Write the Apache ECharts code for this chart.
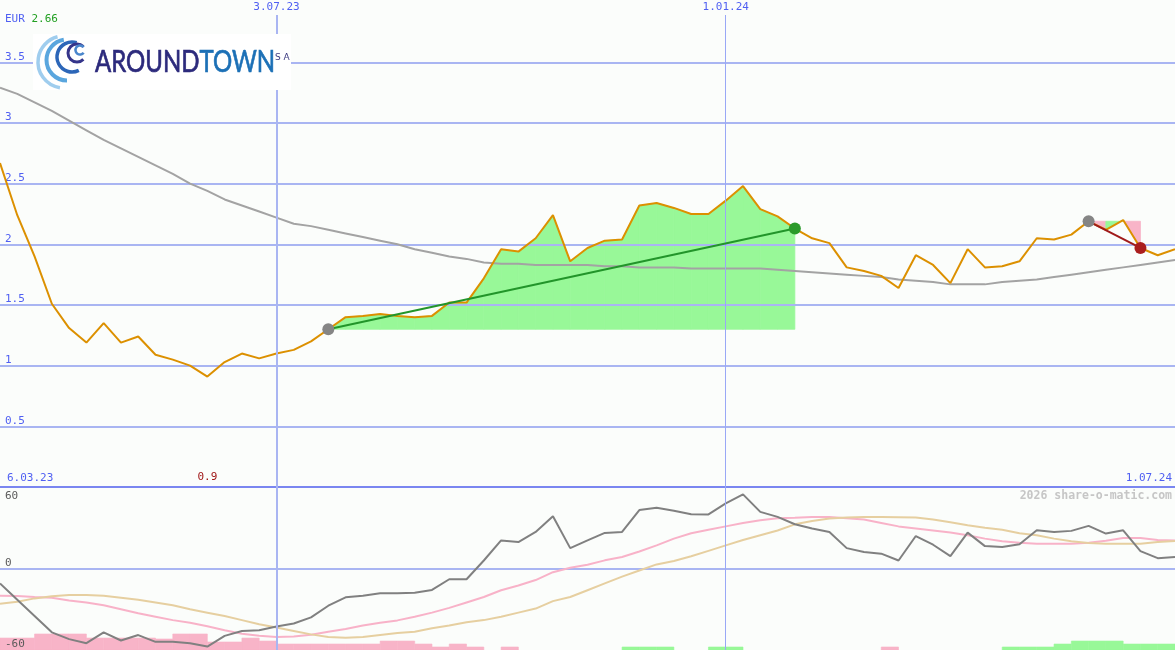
<!DOCTYPE html>
<html><head><meta charset="utf-8">
<script src="https://cdn.jsdelivr.net/npm/echarts@6/dist/echarts.min.js"></script>
<style>html,body{margin:0;padding:0;background:#fbfdfb}#c{width:1175px;height:650px}</style>
</head><body><div id="c"></div>
<script>
// ---- data (weekly points, index 0 = left edge) ----
const startLabel = '6.03.23';
const endLabel = '1.07.24';
const topTickIdx = [16, 42];
const topTickLabels = ['3.07.23', '1.01.24'];
const currency = 'EUR';
const headValue = '2.66';
const watermark = '2026 share-o-matic.com';

const price = [2.67,2.24,1.90,1.51,1.31,1.19,1.35,1.19,1.24,1.09,
  1.05,1.00,0.91,1.03,1.10,1.06,1.10,1.13,1.20,1.30,
  1.40,1.41,1.425,1.41,1.40,1.41,1.52,1.52,1.72,1.96,
  1.94,2.05,2.24,1.86,1.97,2.03,2.04,2.32,2.34,2.30,
  2.25,2.25,2.36,2.48,2.29,2.23,2.13,2.05,2.01,1.81,
  1.78,1.74,1.64,1.91,1.83,1.68,1.96,1.81,1.82,1.86,
  2.05,2.04,2.08,2.19,2.12,2.20,1.97,1.91,1.96];

const movingAvg = [3.29,3.24,3.17,3.10,3.02,2.94,2.86,2.79,2.72,2.65,
  2.58,2.50,2.44,2.37,2.32,2.27,2.22,2.17,2.15,2.12,
  2.09,2.06,2.03,2.00,1.96,1.93,1.90,1.88,1.85,1.84,
  1.84,1.83,1.83,1.83,1.83,1.82,1.82,1.81,1.81,1.81,
  1.80,1.80,1.80,1.80,1.80,1.79,1.78,1.77,1.76,1.75,
  1.74,1.73,1.71,1.70,1.69,1.67,1.67,1.67,1.69,1.70,
  1.71,1.73,1.75,1.77,1.79,1.81,1.83,1.85,1.87];

const tradeStart = [19, 63];
const tradeEnd = [46, 66];

const oscillator = [-11,-23,-35,-47,-52,-55,-47,-53,-49,-54,
  -54,-55,-57.5,-49.6,-46,-45.4,-42.7,-40.5,-36,-27.4,
  -21.2,-20,-18.3,-18.3,-17.8,-15.8,-7.9,-7.9,5.9,20.7,
  19.5,26.9,38.5,15,20.7,26.2,26.9,43,44.7,42.5,
  40,39.8,48,54.6,41.7,38,32.6,29.4,26.9,15,
  12.1,10.9,5.9,23.9,17.5,9.1,26.4,16.5,15.8,17.8,
  28.1,26.9,27.7,31.4,25.7,28.1,12.8,7.6,8.4];

const oscPink = [-20,-20.3,-21,-21.5,-23.5,-25,-27,-30,-33,-35.5,
  -38,-40,-42.5,-45.5,-48,-49.5,-50.4,-50,-48.8,-46.5,
  -44.5,-42,-40,-38.2,-35.5,-32.5,-29,-25,-21,-16,
  -12.5,-8.5,-2.7,0.5,2.8,6,8.5,12.5,17,22,
  26,28.5,31,33.5,35.5,37,37.3,38,38,37,
  36,33.5,31,29.5,28,26.5,24.4,22,20,19,
  18.3,18.3,18.3,19,20.5,22.5,22.5,21,20.7];

const oscTan = [-26,-24.5,-22,-20.5,-19.5,-19.5,-20,-21.5,-23,-25,
  -27,-30,-32.5,-35,-38,-41,-43.5,-46,-48.5,-50.5,
  -51,-50.5,-49,-47.5,-46.5,-44,-42,-39.5,-38,-35.5,
  -32.5,-29.5,-24,-21,-16,-11,-6,-1.5,3,5.5,
  9,13,17,21,24.5,28,32.5,35,36.8,37.5,
  38,38,37.8,37.5,36,34,31.9,30,28.6,26,
  24.4,22,20,18.8,18.3,18.3,18.3,19.5,20.2];

// signed bar heights: negative = pink, positive = green (one per week)
const signalBars = [-8.8,-8.8,-11.8,-11.8,-11.8,-8.8,-8.8,-8.8,-8.8,-8.1,
  -11.8,-11.8,-5.9,-5.9,-8.8,-6.6,-4.4,-4.4,-4.4,-4.4,
  -4.4,-4.4,-6.6,-6.6,-4.4,-2.2,-4.4,-2.2,0,-2.2,
  0,0,0,0,0,0,2.2,2.2,2.2,0,
  0,2.2,2.2,0,0,0,0,0,0,0,
  0,-2.2,0,0,0,0,0,0,2.2,2.2,
  2.2,4.4,6.6,6.6,6.6,4.4,4.4,4.4];

// ---- styles ----
const BLUE_TXT = '#4f5ff2', GRID = '#a9b5f2', SEP = '#7a86f0';
const GREEN_FILL = '#98f898', PINK_FILL = '#f8b4c8';
const MONO = 'DejaVu Sans Mono';
const nW = price.length - 1;

const fillData = [];
tradeStart.forEach((s, k) => {
  const e = tradeEnd[k], base = price[s];
  for (let i = s; i < e; i++) fillData.push([i, base, price[i], price[i + 1], price[i + 1] >= base ? 1 : 0]);
});
const tradeLines = tradeStart.map((s, k) => {
  const e = tradeEnd[k];
  const win = price[e] >= price[s];
  return {
    type: 'line', xAxisIndex: 0, yAxisIndex: 0, z: 6, silent: true,
    symbol: 'circle', symbolSize: 12,
    lineStyle: { color: win ? '#22952a' : '#a01a1a', width: 2 },
    data: [
      { value: [s, price[s]], itemStyle: { color: '#858585' } },
      { value: [e, price[e]], itemStyle: { color: win ? '#2a9a2a' : '#aa1e1e' } }
    ]
  };
});
let minIdx = 0;
price.forEach((v, i) => { if (v < price[minIdx]) minIdx = i; });

const vMarkLines = (withLabel) => ({
  silent: true, symbol: ['none', 'none'], animation: false,
  data: topTickIdx.map((x, k) => ({
    xAxis: x,
    lineStyle: { color: k === 0 ? '#a9b5f2' : '#99a8f6', width: k === 0 ? 2 : 1, type: 'solid' },
    label: { show: withLabel, formatter: topTickLabels[k], position: 'end', distance: 2,
      color: BLUE_TXT, fontFamily: MONO, fontSize: 11 }
  }))
});

const chart = echarts.init(document.getElementById('c'), null, { renderer: 'canvas' });
const LZ = 100;
chart.setOption({
  animation: false,
  backgroundColor: '#fbfdfb',
  grid: [
    { left: 0, right: 0, top: 15, height: 472 },
    { left: 0, right: 0, top: 487, height: 163 }
  ],
  xAxis: [
    { gridIndex: 0, type: 'value', min: 0, max: nW, interval: nW,
      axisLine: { show: true, lineStyle: { color: SEP, width: 2 } },
      axisTick: { show: false }, splitLine: { show: false },
      axisLabel: { inside: true, margin: 3, color: BLUE_TXT, fontFamily: MONO, fontSize: 11,
        alignMinLabel: 'left', alignMaxLabel: 'right', padding: [0, 3, 0, 7],
        formatter: v => v === 0 ? startLabel : (v === nW ? endLabel : '') } },
    { gridIndex: 1, type: 'value', min: 0, max: nW, show: false }
  ],
  yAxis: [
    { gridIndex: 0, type: 'value', min: 0, max: 3.89, interval: 0.5,
      axisLine: { show: false }, axisTick: { show: false },
      axisLabel: { inside: true, margin: 5, verticalAlign: 'bottom', color: BLUE_TXT, fontFamily: MONO, fontSize: 11,
        formatter: v => (v > 0 && v < 3.8) ? String(v) : '' },
      splitLine: { show: true, lineStyle: { width: 2, color: [GRID, GRID, GRID, GRID, GRID, GRID, GRID, GRID, 'rgba(0,0,0,0)'] } } },
    { gridIndex: 1, type: 'value', position: 'left', min: -60, max: 60, interval: 60,
      axisLine: { show: false }, axisTick: { show: false },
      axisLabel: { inside: true, margin: 5, verticalAlign: 'bottom', color: '#5a5a5a', fontFamily: MONO, fontSize: 11,
        showMinLabel: true, formatter: v => v < 60 ? String(v) : '' },
      splitLine: { show: true, lineStyle: { width: 2, color: ['rgba(0,0,0,0)', GRID, 'rgba(0,0,0,0)'] } } },
    { gridIndex: 1, type: 'value', position: 'left', offset: 0, min: -60, max: 60, interval: 60,
      axisLine: { show: false }, axisTick: { show: false }, splitLine: { show: false },
      axisLabel: { inside: true, margin: 5, verticalAlign: 'top', padding: [4, 0, 0, 0], color: '#5a5a5a', fontFamily: MONO, fontSize: 11,
        formatter: v => v === 60 ? '60' : '' } }
  ],
  series: [
    { type: 'custom', xAxisIndex: 0, yAxisIndex: 0, z: -1, silent: true,
      data: fillData, encode: { x: 0, y: [1, 2, 3] },
      renderItem: (params, api) => {
        const i = api.value(0), b = api.value(1), p0 = api.value(2), p1 = api.value(3), up = api.value(4);
        const pts = [api.coord([i, b]), api.coord([i, p0]), api.coord([i + 1, p1]), api.coord([i + 1, b])];
        const c = up ? GREEN_FILL : PINK_FILL;
        return { type: 'polygon', shape: { points: pts }, style: { fill: c, stroke: c, lineWidth: 0.8 } };
      } },
    { type: 'line', xAxisIndex: 0, yAxisIndex: 0, z: 0, silent: true, symbol: 'none',
      data: [], markLine: vMarkLines(true) },
    { type: 'line', xAxisIndex: 1, yAxisIndex: 1, z: 0, silent: true, symbol: 'none',
      data: [], markLine: vMarkLines(false) },
    { type: 'line', xAxisIndex: 0, yAxisIndex: 0, z: 3, silent: true, symbol: 'none',
      lineStyle: { color: '#a3a3a3', width: 2 }, data: movingAvg.map((v, i) => [i, v]) },
    { type: 'line', xAxisIndex: 0, yAxisIndex: 0, z: 4, silent: true, symbol: 'none',
      lineStyle: { color: '#dc9000', width: 2 }, data: price.map((v, i) => [i, v]),
      markPoint: { symbol: 'circle', symbolSize: 0, silent: true,
        data: [{ coord: [minIdx, 0], value: price[minIdx] }],
        label: { show: true, position: 'top', distance: 4, color: '#a01818', fontFamily: MONO, fontSize: 11,
          formatter: p => p.value.toFixed(1) } } },
    ...tradeLines,
    { type: 'custom', xAxisIndex: 1, yAxisIndex: 1, z: -1, silent: true,
      data: signalBars.map((v, i) => [i, v]), encode: { x: 0, y: 1 },
      renderItem: (params, api) => {
        const i = api.value(0), v = api.value(1);
        if (!v) return null;
        const a = api.coord([i, -60]), b = api.coord([i + 1, -60 + Math.abs(v)]);
        const c = v < 0 ? PINK_FILL : GREEN_FILL;
        return { type: 'rect', shape: { x: a[0], y: b[1], width: b[0] - a[0], height: a[1] - b[1] },
          style: { fill: c, stroke: c, lineWidth: 0.6 } };
      } },
    { type: 'line', xAxisIndex: 1, yAxisIndex: 1, z: 3, silent: true, symbol: 'none',
      lineStyle: { color: '#f8b2c8', width: 2 }, data: oscPink.map((v, i) => [i, v]) },
    { type: 'line', xAxisIndex: 1, yAxisIndex: 1, z: 3, silent: true, symbol: 'none',
      lineStyle: { color: '#e6cfa0', width: 2 }, data: oscTan.map((v, i) => [i, v]) },
    { type: 'line', xAxisIndex: 1, yAxisIndex: 1, z: 4, silent: true, symbol: 'none',
      lineStyle: { color: '#808080', width: 2 }, data: oscillator.map((v, i) => [i, v]) }
  ],
  graphic: [
    { type: 'text', left: 5, top: 14, z: LZ, silent: true,
      style: { text: '{a|' + currency + '} {b|' + headValue + '}', font: '11px ' + MONO,
        rich: { a: { fill: BLUE_TXT, font: '11px ' + MONO }, b: { fill: '#22a022', font: '11px ' + MONO } } } },
    { type: 'text', right: 3, top: 490, z: LZ, silent: true,
      style: { text: watermark, fill: '#c6c6c6', font: 'bold 11.5px ' + MONO } },
    { type: 'rect', z: LZ, silent: true, shape: { x: 33, y: 34, width: 258, height: 56 }, style: { fill: '#ffffff' } },
    { type: 'arc', z: LZ + 1, silent: true, shape: { cx: 64, cy: 62, r: 26, startAngle: Math.PI * 0.55, endAngle: Math.PI * 1.42, clockwise: true },
      style: { stroke: '#9fcdee', lineWidth: 3.5, fill: null } },
    { type: 'arc', z: LZ + 1, silent: true, shape: { cx: 67, cy: 60, r: 20.5, startAngle: Math.PI * 0.5, endAngle: Math.PI * 1.45, clockwise: true },
      style: { stroke: '#5aa6de', lineWidth: 4, fill: null } },
    { type: 'arc', z: LZ + 1, silent: true, shape: { cx: 72, cy: 57, r: 15, startAngle: Math.PI * 0.35, endAngle: Math.PI * 1.6, clockwise: true },
      style: { stroke: '#2c66b8', lineWidth: 3.5, fill: null } },
    { type: 'arc', z: LZ + 1, silent: true, shape: { cx: 77, cy: 53, r: 9, startAngle: Math.PI * 0.25, endAngle: Math.PI * 1.75, clockwise: true },
      style: { stroke: '#35358a', lineWidth: 3, fill: null } },
    { type: 'arc', z: LZ + 1, silent: true, shape: { cx: 80, cy: 50, r: 4.5, startAngle: Math.PI * 0.2, endAngle: Math.PI * 1.8, clockwise: true },
      style: { stroke: '#4a86cc', lineWidth: 2.5, fill: null } },
    { type: 'text', z: LZ + 1, silent: true, x: 95, y: 62, scaleX: 0.8, originX: 0,
      style: { text: '{a|AROUND}{b|TOWN}', verticalAlign: 'middle',
        rich: { a: { fill: '#2c2a7c', stroke: '#2c2a7c', lineWidth: 0.7, font: '30px Lato' },
                b: { fill: '#1c70b6', stroke: '#1c70b6', lineWidth: 0.7, font: '30px Lato' } } } },
    { type: 'text', z: LZ + 1, silent: true, x: 275, y: 58,
      style: { text: 'S A', fill: '#3c3a80', font: '9px "DejaVu Sans"', verticalAlign: 'middle' } }
  ]
});
</script></body></html>
